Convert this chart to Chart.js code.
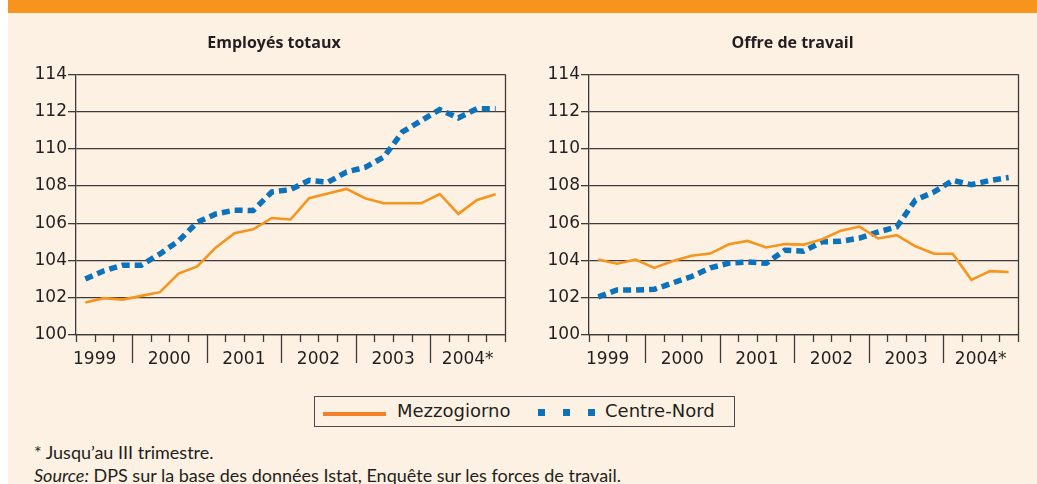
<!DOCTYPE html>
<html>
<head>
<meta charset="utf-8">
<script src="https://cdn.jsdelivr.net/npm/chart.js@4.4.1/dist/chart.umd.min.js"></script>
<style>
  html, body { margin: 0; padding: 0; background: #ffffff; }
  body { width: 1037px; height: 484px; position: relative; overflow: hidden; font-family: "DejaVu Sans", sans-serif; color: #231f20; }
  #panel { position: absolute; left: 8px; top: 0; width: 1029px; height: 484px; background: #fdf1e3; }
  #band { position: absolute; left: 8px; top: 0; width: 1029px; height: 13px; background: #f7941d; }
  .cv { position: absolute; top: 13px; }
  #c1wrap { left: 0; width: 548px; height: 380px; }
  #c2wrap { left: 548px; width: 489px; height: 380px; }
  #legend { position: absolute; left: 314px; top: 396px; width: 419px; height: 29px; border: 1.5px solid #4a4a4a; box-sizing: content-box; }
  #legend .txt { position: absolute; top: 3px; font-size: 18px; line-height: 22px; }
  #legend .oline { position: absolute; left: 8px; top: 15px; width: 63px; height: 4px; background: #f37f2b; }
  #legend .sq { position: absolute; top: 12px; width: 7px; height: 7px; background: #0b72bb; }
  .note { position: absolute; left: 34px; font-family: Lato, sans-serif; font-size: 18px; line-height: 20px; }
</style>
</head>
<body>
<div id="panel"></div>
<div id="band"></div>
<div class="cv" id="c1wrap"><canvas id="c1"></canvas></div>
<div class="cv" id="c2wrap"><canvas id="c2"></canvas></div>
<div id="legend">
  <div class="oline"></div>
  <div class="txt" style="left:82px">Mezzogiorno</div>
  <div class="sq" style="left:223px"></div>
  <div class="sq" style="left:248px"></div>
  <div class="sq" style="left:273px"></div>
  <div class="txt" style="left:290px">Centre-Nord</div>
</div>
<div class="note" style="top:442px">* Jusqu’au III trimestre.</div>
<div class="note" style="top:465px"><i>Source:</i> DPS sur la base des données Istat, Enquête sur les forces de travail.</div>
<script>
// ---- data ----
const YEARS = ['1999', '2000', '2001', '2002', '2003', '2004*'];
const QUARTERS_PER_YEAR = [3, 4, 4, 4, 4, 4];
const SERIES_NAMES = ['Mezzogiorno', 'Centre-Nord'];
const TITLES = ['Employés totaux', 'Offre de travail'];
const Y_TICKS = [100, 102, 104, 106, 108, 110, 112, 114];

const empMezzogiorno = [101.75, 101.98, 101.9, 102.1, 102.3, 103.3, 103.68, 104.7, 105.47, 105.67, 106.28, 106.2,
  107.34, 107.6, 107.84, 107.34, 107.07, 107.07, 107.07, 107.57, 106.5, 107.25, 107.55];
const empCentreNord = [103.0, 103.45, 103.75, 103.75, 104.35, 105.05, 106.05, 106.5, 106.7, 106.68, 107.68, 107.8,
  108.3, 108.2, 108.75, 109.0, 109.55, 110.9, 111.5, 112.1, 111.65, 112.15, 112.15];
const offMezzogiorno = [104.05, 103.83, 104.05, 103.6, 103.97, 104.25, 104.37, 104.87, 105.05, 104.7, 104.88, 104.85,
  105.14, 105.6, 105.82, 105.18, 105.36, 104.76, 104.36, 104.36, 102.96, 103.43, 103.38];
const offCentreNord = [102.05, 102.42, 102.42, 102.45, 102.8, 103.14, 103.6, 103.86, 103.92, 103.85, 104.55, 104.5,
  105.0, 105.03, 105.2, 105.53, 105.8, 107.24, 107.68, 108.3, 108.07, 108.3, 108.45];

// ---- derived ----
const N = QUARTERS_PER_YEAR.reduce((a, b) => a + b, 0);
const yearEnds = [];
QUARTERS_PER_YEAR.reduce((acc, q) => { yearEnds.push(acc + q); return acc + q; }, 0);
const yearLabelPos = yearEnds.map(e => e - 2);
const majorBounds = yearEnds.slice(0, -1);

const ORANGE = '#f7941d';
const BLUE = '#0b72bb';
const INK = '#231f20';
const GRID = '#3d3a39';
const FONT = '"DejaVu Sans", sans-serif';
const TITLE_FONT = '"Open Sans", sans-serif';

function pts(arr) { return arr.map((v, i) => ({ x: i + 0.5, y: v })); }

const tickPlugin = {
  id: 'qTicks',
  afterLayout(chart) {
    // centre the title over the whole canvas rather than the padded box
    const t = chart.titleBlock;
    if (t) { t.left = 0; t.right = chart.width; t.width = chart.width; }
  },
  afterDraw(chart) {
    const sx = chart.scales.x, a = chart.chartArea, ctx = chart.ctx;
    ctx.save();
    ctx.strokeStyle = GRID;
    ctx.lineWidth = 1.3;
    ctx.beginPath();
    for (let i = 0; i <= N; i++) {
      const px = Math.round(sx.getPixelForValue(i)) + 0.5;
      const len = majorBounds.includes(i) ? 28 : 7;
      ctx.moveTo(px, a.bottom);
      ctx.lineTo(px, a.bottom + len);
    }
    const rx = Math.round(a.right) + 0.5;
    ctx.moveTo(rx, a.top);
    ctx.lineTo(rx, a.bottom);
    ctx.stroke();
    ctx.restore();
  }
};

function makeChart(id, title, mezz, cn, yAxisWidth, padRight) {
  return new Chart(document.getElementById(id), {
    type: 'line',
    data: {
      datasets: [
        { label: SERIES_NAMES[0], data: pts(mezz), borderColor: ORANGE, borderWidth: 2.6, pointRadius: 0, tension: 0, fill: false },
        { label: SERIES_NAMES[1], data: pts(cn), borderColor: BLUE, borderWidth: 5.5, borderDash: [8, 5], borderCapStyle: 'butt', pointRadius: 0, tension: 0, fill: false }
      ]
    },
    options: {
      responsive: true,
      maintainAspectRatio: false,
      animation: false,
      events: [],
      layout: { padding: { left: 0, right: padRight, top: 0, bottom: 8 } },
      plugins: {
        legend: { display: false },
        tooltip: { enabled: false },
        title: {
          display: true, text: title, color: INK,
          font: { family: TITLE_FONT, size: 16, weight: 'bold' },
          padding: { top: 21, bottom: 21 }
        }
      },
      scales: {
        x: {
          type: 'linear', min: 0, max: N,
          afterBuildTicks: axis => { axis.ticks = yearLabelPos.map(v => ({ value: v })); },
          afterFit: s => { s.height = 50; },
          grid: { display: false, drawTicks: false },
          border: { display: true, color: GRID, width: 1.3 },
          ticks: {
            autoSkip: false, maxRotation: 0, padding: 14, color: INK,
            font: { family: FONT, size: 17 },
            callback: v => { const k = yearLabelPos.indexOf(v); return k >= 0 ? YEARS[k] : ''; }
          }
        },
        y: {
          min: Y_TICKS[0], max: Y_TICKS[Y_TICKS.length - 1],
          afterBuildTicks: axis => { axis.ticks = Y_TICKS.map(v => ({ value: v })); },
          afterFit: s => { s.width = yAxisWidth; },
          grid: { color: GRID, lineWidth: 1.3, tickLength: 8, drawTicks: true },
          border: { display: true, color: GRID, width: 1.3 },
          ticks: { color: INK, padding: 1, font: { family: FONT, size: 17 } }
        }
      }
    },
    plugins: [tickPlugin]
  });
}

// chart area: left 76..505 in panel 0..548 ; right 589..1018 in panel 548..1037
makeChart('c1', TITLES[0], empMezzogiorno, empCentreNord, 76, 43);
makeChart('c2', TITLES[1], offMezzogiorno, offCentreNord, 41, 19);
</script>
</body>
</html>
